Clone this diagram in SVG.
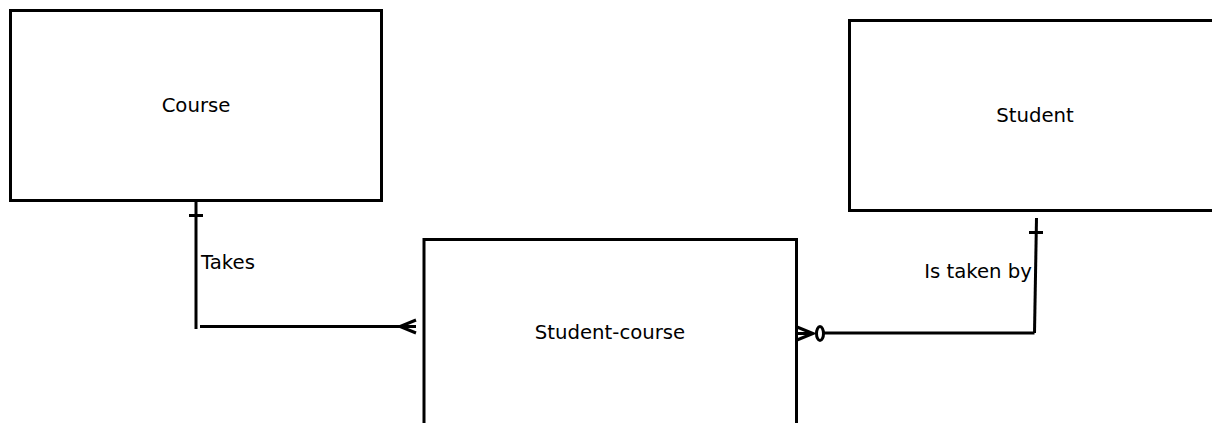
<svg xmlns="http://www.w3.org/2000/svg" width="1212" height="423" viewBox="0 0 1212 423">
<style>
.box{fill:#fff;stroke:#000;stroke-width:3}
.ln{fill:none;stroke:#000;stroke-width:3}
text{font-family:"DejaVu Sans",sans-serif;font-size:19.7px;fill:#000}
</style>
<rect width="1212" height="423" fill="#fff"/>
<g id="course"><rect class="box" x="10.5" y="10.5" width="371" height="190"/><text x="196" y="112" text-anchor="middle">Course</text></g>
<g id="student"><rect class="box" x="849.5" y="20.5" width="380" height="190"/><text x="1035" y="122" text-anchor="middle">Student</text></g>
<g id="student-course"><rect class="box" x="424" y="239.5" width="372.5" height="200"/><text x="610" y="339" text-anchor="middle">Student-course</text></g>
<g id="connectors">
<path class="ln" d="M196 201 V329"/>
<path class="ln" d="M189 215.5 H203"/>
<path class="ln" d="M200 326.5 H416"/>
<path class="ln" d="M416 320 L400 326.5 L416 333"/>
<text x="201" y="269">Takes</text>
<path class="ln" d="M1036.5 218 L1034.5 333"/>
<path class="ln" d="M1029 232.5 H1043"/>
<path class="ln" d="M1034.5 333 H823"/>
<ellipse class="ln" cx="820" cy="333.5" rx="3.5" ry="7"/>
<path class="ln" d="M797 327 L813 333.5 L797 340 M797 333.5 H813"/>
<text x="1032" y="278" text-anchor="end">Is taken by</text>
</g>
</svg>
